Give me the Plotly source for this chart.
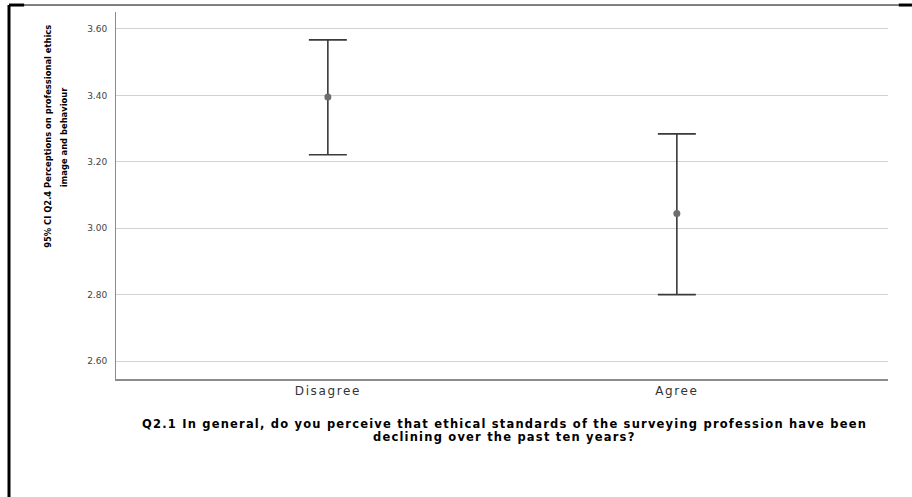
import plotly.graph_objects as go

# Group means with 95% confidence limits
categories = ["Disagree", "Agree"]
means = [3.395, 3.044]
ci_upper = [3.567, 3.284]
ci_lower = [3.221, 2.800]
y_ticks = [2.60, 2.80, 3.00, 3.20, 3.40, 3.60]

y_title_lines = ["95% CI Q2.4 Perceptions on professional ethics", "image and behaviour"]
x_title_lines = [
    "Q2.1 In general, do you perceive that ethical standards of the surveying profession have been",
    "declining over the past ten years?",
]

x_pos = list(range(len(categories)))
err_plus = [u - m for u, m in zip(ci_upper, means)]
err_minus = [m - l for m, l in zip(means, ci_lower)]

SANS = "Liberation Sans, Arial, sans-serif"
NARROW = "DejaVu Sans Condensed, DejaVu Sans, sans-serif"
WIDE = "DejaVu Sans, Verdana, sans-serif"


def spaced(text, px):
    return f'<span style="letter-spacing:{px}px">{text}</span>'


fig = go.Figure()
fig.add_trace(go.Scatter(
    x=x_pos,
    y=means,
    mode="markers",
    marker=dict(color="#6e6e6e", size=7),
    error_y=dict(
        type="data",
        symmetric=False,
        array=err_plus,
        arrayminus=err_minus,
        color="#3a3a3a",
        thickness=1.6,
        width=19,
    ),
    showlegend=False,
    hoverinfo="skip",
))

# page frame lines (paper coordinates)
frame = [
    dict(x0=-0.1386, x1=1.031, y0=1.019, y1=1.019, w=1),
    dict(x0=-0.1386, x1=-0.119, y0=1.019, y1=1.019, w=3),
    dict(x0=1.014, x1=1.031, y0=1.019, y1=1.019, w=3),
    dict(x0=-0.1386, x1=-0.1386, y0=1.019, y1=-0.33, w=3),
]
shapes = [
    dict(type="line", xref="paper", yref="paper",
         x0=f["x0"], x1=f["x1"], y0=f["y0"], y1=f["y1"],
         line=dict(color="black", width=f["w"]))
    for f in frame
]

annotations = []
# rotated y-axis title, one annotation per line
for line, xp in zip(y_title_lines, [-0.088, -0.068]):
    annotations.append(dict(
        text=line,
        xref="paper", yref="paper",
        x=xp, y=0.66,
        textangle=-90,
        showarrow=False,
        font=dict(family=NARROW, size=9.3, color="black", weight="bold"),
        xanchor="center", yanchor="middle",
    ))
# x-axis title, two centred lines
for line, yp in zip(x_title_lines, [-0.123, -0.158]):
    annotations.append(dict(
        text=spaced(line, 1.2),
        xref="paper", yref="paper",
        x=0.503, y=yp,
        showarrow=False,
        font=dict(family=WIDE, size=11.5, color="black", weight="bold"),
        xanchor="center", yanchor="middle",
    ))

fig.update_layout(
    width=912,
    height=497,
    margin=dict(l=116, r=24, t=12, b=118),
    paper_bgcolor="white",
    plot_bgcolor="white",
    font=dict(family=SANS, color="#222"),
    xaxis=dict(
        range=[-0.607, 1.605],
        tickmode="array",
        tickvals=x_pos,
        ticktext=[spaced(c, 1.6) for c in categories],
        tickfont=dict(family=WIDE, size=12, color="#333"),
        showgrid=False,
        zeroline=False,
        showline=True,
        linecolor="#8c8c8c",
        linewidth=2,
        ticks="",
    ),
    yaxis=dict(
        range=[2.546, 3.651],
        tickmode="array",
        tickvals=y_ticks,
        tickformat=".2f",
        tickfont=dict(family=WIDE, size=9, color="#444"),
        showgrid=True,
        gridcolor="#d2d2d2",
        gridwidth=1,
        zeroline=False,
        showline=True,
        linecolor="#8c8c8c",
        linewidth=1,
        ticks="",
        ticklabelstandoff=6,
    ),
    shapes=shapes,
    annotations=annotations,
)

fig.write_html("out.html")
